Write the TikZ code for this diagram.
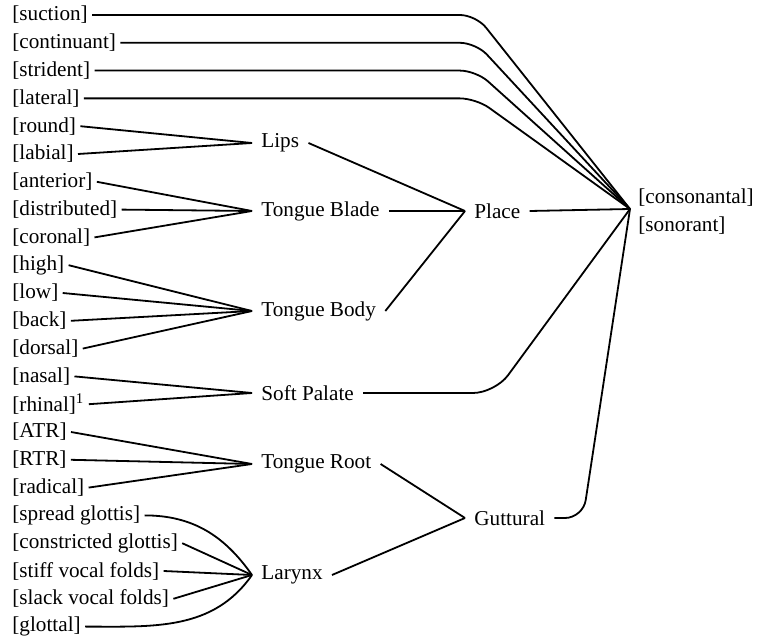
\documentclass[tikz,border=0pt]{standalone}
\usepackage{fontspec}
\setmainfont{Liberation Serif}
\usetikzlibrary{positioning}

\tikzset{
  feat/.style={inner xsep=2pt, inner ysep=1pt, anchor=west, font=\fontsize{10.6}{12}\selectfont},
  featrow/.style={feat, below=13.9pt of #1.west, anchor=west},
  organ/.style={inner xsep=4.5pt, inner ysep=1pt, anchor=west, font=\fontsize{10.6}{12}\selectfont},
  link/.style={line width=0.9pt}
}

\begin{document}
\begin{tikzpicture}[x=0.5pt, y=0.5pt]
        \useasboundingbox (0,0) rectangle (757,-642);

        % Features
        \node[feat] (suc) at (8,-15) {[suction]};
        \node[featrow=suc] (cont) {[continuant]};
        \node[featrow=cont] (stri) {[strident]};
        \node[featrow=stri] (lat) {[lateral]};
        \node[featrow=lat] (round) {[round]};
        \node[featrow=round] (lab) {[labial]};
        \node[featrow=lab] (ant) {[anterior]};
        \node[featrow=ant] (dist) {[distributed]};
        \node[featrow=dist] (cor) {[coronal]};
        \node[featrow=cor] (high) {[high]};
        \node[featrow=high] (low) {[low]};
        \node[featrow=low] (back) {[back]};
        \node[featrow=back] (dors) {[dorsal]};
        \node[featrow=dors] (nas) {[nasal]};
        \node[featrow=nas] (rhin) {[rhinal]\textsuperscript{1}};
        \node[featrow=rhin] (atr) {[ATR]};
        \node[featrow=atr] (rtr) {[RTR]};
        \node[featrow=rtr] (rad) {[radical]};
        \node[featrow=rad] (sg) {[spread glottis]};
        \node[featrow=sg] (cg) {[constricted glottis]};
        \node[featrow=cg] (stiff) {[stiff vocal folds]};
        \node[featrow=stiff] (slack) {[slack vocal folds]};
        \node[featrow=slack] (glot) {[glottal]};

        % Articulators
        \node[organ] (lips) at (252,-143) {Lips};
        \node[organ] (tblade) at (252,-211) {Tongue Blade};
        \node[organ] (tbody) at (252,-311) {Tongue Body};
        \node[organ] (soft) at (252,-393) {Soft Palate};
        \node[organ] (troot) at (252,-464) {Tongue Root};
        \node[organ] (lar) at (252,-575) {Larynx};

        % Class nodes
        \node[organ] (place) at (465,-211) {Place};
        \node[organ] (gutt) at (465,-518) {Guttural};

        % Root
        \coordinate (root) at (630,-209);
        \node[feat] (cons) at (634,-198) {[consonantal]};
        \node[feat] (son) at (634,-226) {[sonorant]};

        % Bends
        \coordinate (topbend) at (476,0);
        \coordinate (softbend) at (495,0);
        \coordinate (guttbend) at (583,0);

        % Lines to the root
        \foreach \f in {suc,cont,stri,lat}
          \draw[link, rounded corners=8pt] (\f.east) -- (\f.east -| topbend) -- (root);
        \draw[link] (place.east) -- (root);
        \draw[link, rounded corners=11pt] (soft.east) -- (soft.east -| softbend) -- (root);
        \draw[link, rounded corners=9pt] (gutt.east) -- (gutt.east -| guttbend) -- (root);

        % Lines to the class nodes
        \draw[link] (lips.east) -- (place.west);
        \draw[link] (tblade.east) -- (place.west);
        \draw[link] (tbody.east) -- (place.west);
        \draw[link] (troot.east) -- (gutt.west);
        \draw[link] (lar.east) -- (gutt.west);

        % Lines to the articulators
        \foreach \f in {round,lab}
          \draw[link] (\f.east) -- (lips.west);
        \foreach \f in {ant,dist,cor}
          \draw[link] (\f.east) -- (tblade.west);
        \foreach \f in {high,low,back,dors}
          \draw[link] (\f.east) -- (tbody.west);
        \foreach \f in {nas,rhin}
          \draw[link] (\f.east) -- (soft.west);
        \foreach \f in {atr,rtr,rad}
          \draw[link] (\f.east) -- (troot.west);
        \draw[link] (sg.east) to[out=0, in=125] (lar.west);
        \foreach \f in {cg,stiff,slack}
          \draw[link] (\f.east) -- (lar.west);
        \draw[link] (glot.east) to[out=0, in=-125] (lar.west);
    \end{tikzpicture}
\end{document}
